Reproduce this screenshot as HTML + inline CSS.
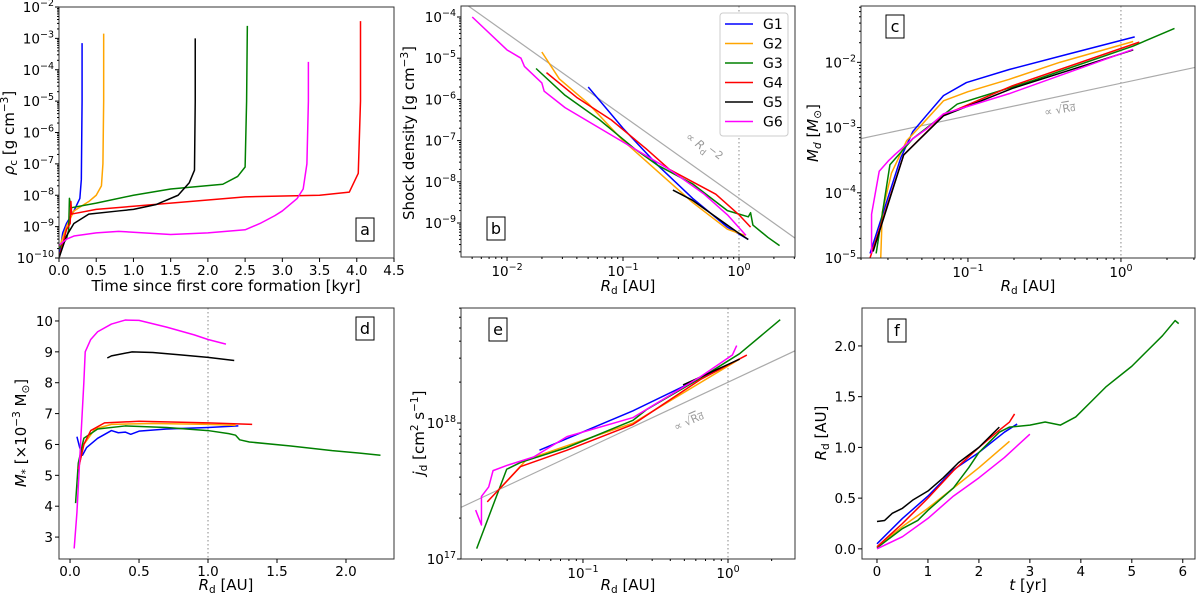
<!DOCTYPE html>
<html><head><meta charset="utf-8">
<style>
body{margin:0;background:#fff;}
svg{display:block;font-family:"DejaVu Sans","Liberation Sans",sans-serif;}
</style></head>
<body>
<svg id="fig" width="1200" height="594" viewBox="0 0 1200 594" xmlns="http://www.w3.org/2000/svg"></svg>
<script>
const seriesNames=['G1','G2','G3','G4','G5','G6'];
const seriesColors=['#0000ff','#ffa500','#008000','#ff0000','#000000','#ff00ff'];
// Panel a: time [kyr] vs log10 rho_c
const aG1=[[0,-10],[0.05,-9.2],[0.1,-8.9],[0.2,-8.5],[0.28,-8.1],[0.3,-7.5],[0.31,-5],[0.31,-3.15]];
const aG2=[[0,-9.7],[0.1,-9],[0.2,-8.5],[0.4,-8.2],[0.5,-8],[0.57,-7.7],[0.59,-7],[0.6,-5],[0.6,-2.85]];
const aG3=[[0,-9.7],[0.1,-9.4],[0.13,-9.1],[0.14,-8.1],[0.16,-8.4],[0.5,-8.25],[1.0,-8.0],[1.5,-7.8],[2.2,-7.65],[2.4,-7.4],[2.5,-7.1],[2.52,-5],[2.53,-2.6]];
const aG4=[[0,-10],[0.1,-9.1],[0.15,-8.9],[0.16,-8.2],[0.17,-8.6],[0.5,-8.45],[1,-8.35],[2,-8.15],[2.5,-8.05],[3.5,-8.0],[3.9,-7.9],[4.02,-7.3],[4.05,-5],[4.05,-2.45]];
const aG5=[[0,-10],[0.1,-9.3],[0.2,-8.9],[0.4,-8.6],[0.8,-8.5],[1.0,-8.45],[1.3,-8.3],[1.6,-8.0],[1.75,-7.6],[1.82,-7.2],[1.83,-5],[1.83,-3.0]];
const aG6=[[0,-9.6],[0.1,-9.4],[0.2,-9.3],[0.5,-9.2],[0.8,-9.15],[1.5,-9.25],[2.0,-9.2],[2.5,-9.1],[2.7,-8.9],[2.9,-8.65],[3.0,-8.5],[3.2,-8.1],[3.28,-7.8],[3.33,-7],[3.35,-5],[3.35,-3.75]];
// Panel b: log10 Rd vs log10 shock density
const bG1=[[-1.3,-5.7],[-1,-6.7],[-0.7,-7.6],[-0.4,-8.4],[-0.1,-9.1],[0.08,-9.4]];
const bG2=[[-1.7,-4.85],[-1.55,-5.5],[-1.3,-6.1],[-1,-7],[-0.7,-7.75],[-0.4,-8.5],[-0.1,-9.15],[0.05,-9.3]];
const bG3=[[-1.75,-5.25],[-1.5,-5.9],[-1.2,-6.5],[-0.9,-7.2],[-0.7,-7.6],[-0.4,-8.05],[-0.1,-8.7],[0.08,-8.85],[0.1,-8.75],[0.12,-9.05],[0.25,-9.35],[0.35,-9.55]];
const bG4=[[-1.66,-5.35],[-1.4,-5.95],[-1.1,-6.5],[-0.8,-7.2],[-0.6,-7.7],[-0.4,-8.0],[-0.2,-8.3],[0,-8.8],[0.1,-9.1]];
const bG5=[[-0.57,-8.2],[-0.4,-8.45],[-0.2,-8.85],[0,-9.25],[0.08,-9.4]];
const bG6=[[-2.3,-4.0],[-2.0,-4.8],[-1.88,-5.0],[-1.85,-5.2],[-1.7,-5.6],[-1.68,-5.8],[-1.5,-6.2],[-1.2,-6.7],[-0.9,-7.2],[-0.6,-7.7],[-0.3,-8.3],[-0.1,-8.8],[0.06,-9.3]];
// Panel c: log10 Rd vs log10 Md
const cG1=[[-1.64,-4.93],[-1.44,-3.47],[-1.36,-3.06],[-1.27,-2.81],[-1.16,-2.51],[-1.01,-2.31],[-0.73,-2.11],[-0.355,-1.88],[0.09,-1.61]];
const cG2=[[-1.57,-5],[-1.56,-4.3],[-1.5,-3.7],[-1.4,-3.2],[-1.3,-2.95],[-1.16,-2.59],[-1.0,-2.45],[-0.73,-2.26],[-0.4,-2.0],[0.08,-1.68]];
const cG3=[[-1.6,-4.93],[-1.51,-3.57],[-1.36,-3.17],[-1.07,-2.64],[-0.575,-2.28],[0.08,-1.75],[0.35,-1.48]];
const cG4=[[-1.64,-5],[-1.42,-3.42],[-1.16,-2.81],[-0.71,-2.36],[0.12,-1.69]];
const cG5=[[-1.62,-4.9],[-1.42,-3.42],[-1.16,-2.82],[-0.71,-2.4],[0.08,-1.81]];
const cG6=[[-1.63,-4.93],[-1.63,-4.33],[-1.58,-3.67],[-1.52,-3.51],[-1.48,-3.42],[-1.36,-3.17],[-1.27,-3.02],[-1.16,-2.79],[-0.73,-2.48],[0.08,-1.8]];
// Panel d: Rd vs M*
const dG1=[[0.05,6.25],[0.07,5.9],[0.09,5.65],[0.12,5.9],[0.2,6.2],[0.3,6.45],[0.35,6.38],[0.4,6.4],[0.44,6.33],[0.5,6.43],[0.7,6.5],[1.0,6.55],[1.22,6.6]];
const dG2=[[0.06,5.2],[0.1,6.0],[0.18,6.5],[0.3,6.65],[0.6,6.68],[1.0,6.65],[1.2,6.62]];
const dG3=[[0.04,4.1],[0.06,5.4],[0.1,6.2],[0.2,6.5],[0.4,6.6],[0.7,6.55],[1.0,6.45],[1.15,6.35],[1.2,6.3],[1.23,6.15],[1.3,6.08],[1.6,5.95],[1.9,5.8],[2.1,5.72],[2.25,5.65]];
const dG4=[[0.06,5.2],[0.1,6.0],[0.15,6.45],[0.25,6.7],[0.5,6.75],[1.0,6.7],[1.32,6.65]];
const dG5=[[0.27,8.8],[0.3,8.87],[0.45,9.0],[0.6,8.98],[0.8,8.9],[1.0,8.82],[1.19,8.72]];
const dG6=[[0.03,2.63],[0.05,3.8],[0.07,5.5],[0.1,8.0],[0.11,9.0],[0.15,9.4],[0.2,9.65],[0.3,9.9],[0.4,10.03],[0.5,10.02],[0.7,9.8],[0.9,9.55],[1.0,9.4],[1.13,9.25]];
// Panel e: log10 Rd vs log10 jd
const eG1=[[-1.30,17.80],[-0.655,18.09],[-0.19,18.33],[0.08,18.47]];
const eG2=[[-1.57,17.52],[-1.39,17.73],[-0.655,18.0],[0.08,18.47]];
const eG3=[[-1.733,17.076],[-1.526,17.66],[-1.43,17.71],[-1.11,17.82],[-0.655,18.02],[-0.56,18.1],[-0.19,18.33],[0.08,18.51],[0.36,18.76]];
const eG4=[[-1.66,17.42],[-1.43,17.68],[-1.11,17.8],[-0.655,17.99],[-0.19,18.32],[0.13,18.5]];
const eG5=[[-0.31,18.28],[0.08,18.47]];
const eG6=[[-1.74,17.36],[-1.70,17.25],[-1.70,17.46],[-1.65,17.53],[-1.62,17.65],[-1.52,17.69],[-1.34,17.75],[-1.11,17.90],[-0.655,18.04],[-0.19,18.34],[0.03,18.5],[0.06,18.57]];
// Panel f: t [yr] vs Rd
const fG1=[[0,0.05],[0.5,0.3],[1.0,0.52],[1.5,0.78],[2.0,0.95],[2.5,1.15],[2.75,1.23]];
const fG2=[[0,0.02],[0.5,0.22],[1.0,0.4],[1.5,0.6],[2.0,0.8],[2.6,1.06]];
const fG3=[[0,0.01],[0.5,0.2],[0.8,0.28],[1.0,0.38],[1.5,0.6],[1.8,0.8],[2.0,0.95],[2.4,1.15],[2.6,1.2],[3.0,1.22],[3.3,1.25],[3.6,1.22],[3.9,1.3],[4.2,1.45],[4.5,1.6],[5.0,1.8],[5.3,1.95],[5.6,2.1],[5.85,2.25],[5.92,2.22]];
const fG4=[[0,0.02],[0.5,0.25],[1.0,0.5],[1.5,0.77],[2.0,1.0],[2.4,1.17],[2.6,1.25],[2.7,1.33]];
const fG5=[[0,0.27],[0.15,0.28],[0.3,0.35],[0.5,0.4],[0.7,0.48],[1.0,0.57],[1.3,0.7],[1.6,0.85],[2.0,1.0],[2.4,1.2]];
const fG6=[[0,0.0],[0.5,0.12],[1.0,0.3],[1.5,0.52],[2.0,0.7],[2.5,0.9],[3.0,1.13]];
// reference power laws: [intercept, slope] in log space
const bRef=[-8.4,-2];
const cRef=[-2.32,0.5];
const eRef=[18.30,0.5];

const NS='http://www.w3.org/2000/svg';
const svg=document.getElementById('fig');
const TF=13.5;
function mk(tag,attrs,parent){const e=document.createElementNS(NS,tag);for(const k in attrs)e.setAttribute(k,attrs[k]);(parent||svg).appendChild(e);return e;}
function pw(g,t,x,y,anchor){
  const e=mk('text',{x:x,y:y,'font-size':TF,'text-anchor':anchor},g);
  e.appendChild(document.createTextNode('10'));
  const s=mk('tspan',{dy:-6,'font-size':9.5},e);s.textContent=String(t).replace('-','−');
  return e;
}
function panel(name,box,xr,yr){
  const [L,T,R,B]=box;
  const g=mk('g',{});
  
  
  const sx=v=>L+(v-xr[0])/(xr[1]-xr[0])*(R-L);
  const sy=v=>B-(v-yr[0])/(yr[1]-yr[0])*(B-T);
  const clip='clip-'+name;
  const cp=mk('clipPath',{id:clip},g);mk('rect',{x:L,y:T,width:R-L,height:B-T},cp);
  const plot=mk('g',{'clip-path':'url(#'+clip+')'},g);
  return {g,plot,sx,sy,L,T,R,B};
}
function frame(p){mk('rect',{x:p.L,y:p.T,width:p.R-p.L,height:p.B-p.T,fill:'none',stroke:'#333','stroke-width':1},p.g);}
function xTicksLin(p,vals,fmt){const a=mk('g',{},p.g);
  vals.forEach(v=>{const x=p.sx(v);mk('line',{x1:x,x2:x,y1:p.B,y2:p.B+4,stroke:'#000'},a);const t=mk('text',{x:x,y:p.B+17,'font-size':TF,'text-anchor':'middle'},a);t.textContent=fmt(v);});}
function yTicksLin(p,vals,fmt){const a=mk('g',{},p.g);
  vals.forEach(v=>{const y=p.sy(v);mk('line',{x1:p.L-4,x2:p.L,y1:y,y2:y,stroke:'#000'},a);const t=mk('text',{x:p.L-6,y:y+5,'font-size':TF,'text-anchor':'end'},a);t.textContent=fmt(v);});}
function xTicksLog(p,lo,hi,labels){const a=mk('g',{},p.g);
  for(let d=Math.floor(lo);d<=hi;d++){for(let m=1;m<10;m++){const v=d+Math.log10(m);if(v<lo||v>hi)continue;const x=p.sx(v);mk('line',{x1:x,x2:x,y1:p.B,y2:p.B+(m==1?4:2),stroke:'#000'},a);
    if(m==1&&labels.includes(d))pw(a,d,x,p.B+19,'middle');}}}
function yTicksLog(p,lo,hi,labels){const a=mk('g',{},p.g);
  for(let d=Math.floor(lo);d<=hi;d++){for(let m=1;m<10;m++){const v=d+Math.log10(m);if(v<lo-1e-9||v>hi)continue;const y=p.sy(v);mk('line',{x1:p.L-(m==1?4:2),x2:p.L,y1:y,y2:y,stroke:'#000'},a);
    if(m==1&&labels.includes(d))pw(a,d,p.L-5,y+5,'end');}}}
function series(p,data,i,pfx){const e=mk('polyline',{points:data.map(d=>p.sx(d[0])+','+p.sy(d[1])).join(' '),fill:'none',stroke:seriesColors[i],'stroke-width':1.5,'stroke-linejoin':'round'},p.plot);
  
  }
function refLine(p,ref,xr,nm){const e=mk('line',{x1:p.sx(xr[0]),y1:p.sy(ref[0]+ref[1]*xr[0]),x2:p.sx(xr[1]),y2:p.sy(ref[0]+ref[1]*xr[1]),stroke:'#aaa','stroke-width':1.2},p.plot);
  
  }
function vline(p,v){const e=mk('line',{x1:p.sx(v),x2:p.sx(v),y1:p.T,y2:p.B,stroke:'#888','stroke-width':1,'stroke-dasharray':'1.5,2.5'},p.plot);
  
  }
function tag(p,ch,cx,cy){const r=mk('rect',{x:cx-9,y:cy-12,width:18,height:23,fill:'#fff',stroke:'#000','stroke-width':1},p.g);
  const t=mk('text',{x:cx,y:cy+5,'font-size':16,'text-anchor':'middle'},p.g);t.textContent=ch;}
function label(html,x,y,rot,nm){const t=mk('text',{x:x,y:y,'font-size':15,'text-anchor':'middle',transform:rot?'rotate(-90 '+x+' '+y+')':''});t.innerHTML=html;
  
  }
const f1=v=>v.toFixed(1);
const RD='<tspan font-style="italic">R</tspan><tspan font-size="10.5" dy="3">d</tspan><tspan dy="-3"> [AU]</tspan>';

// Panel a
const pa=panel('panel-a',[59,7,394,258],[0,4.5],[-10,-2]);
[aG1,aG2,aG3,aG4,aG5,aG6].forEach((d,i)=>series(pa,d,i,'a'));
frame(pa);xTicksLin(pa,[0,0.5,1,1.5,2,2.5,3,3.5,4,4.5],f1);yTicksLog(pa,-10,-2,[-10,-9,-8,-7,-6,-5,-4,-3,-2]);
tag(pa,'a',365,230);
label('Time since first core formation [kyr]',226,291,false,'x-axis-title-a');
label('<tspan font-style="italic">ρ</tspan><tspan font-size="10.5" dy="3">c</tspan><tspan dy="-3"> [g cm</tspan><tspan font-size="10.5" dy="-6">−3</tspan><tspan dy="6">]</tspan>',14,133,true,'y-axis-title-a');

// Panel b
const pb=panel('panel-b',[461,6,795,257],[-2.397,0.483],[-9.825,-3.733]);
vline(pb,0);refLine(pb,bRef,[-2.4,0.5],'reference-line-r-2');
[bG1,bG2,bG3,bG4,bG5,bG6].forEach((d,i)=>series(pb,d,i,'b'));
frame(pb);xTicksLog(pb,-2.397,0.483,[-2,-1,0]);yTicksLog(pb,-9.825,-3.733,[-9,-8,-7,-6,-5,-4]);
tag(pb,'b',496,229);
{const t=mk('text',{x:0,y:0,'font-size':11.5,fill:'#999',transform:'translate(685,138) rotate(38)'});t.innerHTML='∝ <tspan font-style="italic">R</tspan><tspan font-size="8.5" dy="3">d</tspan><tspan dy="-7" font-size="10.5">−2</tspan>';}
label(RD,628,291,false,'x-axis-title-b');
label('Shock density [g cm<tspan font-size="10.5" dy="-6">−3</tspan><tspan dy="6">]</tspan>',414,133,true,'y-axis-title-b');
{const lg=mk('g',{});
 mk('rect',{x:720,y:13,width:68,height:123,rx:3,fill:'#fff',stroke:'#ccc'},lg);
 seriesNames.forEach((n,i)=>{const y=24+i*19.5;const e=mk('g',{},lg);
  mk('line',{x1:725,x2:753,y1:y,y2:y,stroke:seriesColors[i],'stroke-width':1.5},e);const t=mk('text',{x:763,y:y+5,'font-size':14},e);t.textContent=n;});}

// Panel c
const pc=panel('panel-c',[861,6,1195,258],[-1.699,0.484],[-5,-1.136]);
vline(pc,0);refLine(pc,cRef,[-1.8,0.6],'reference-line-sqrt');
[cG1,cG2,cG3,cG4,cG5,cG6].forEach((d,i)=>series(pc,d,i,'c'));
frame(pc);xTicksLog(pc,-1.699,0.484,[-1,0]);yTicksLog(pc,-5,-1.136,[-5,-4,-3,-2]);
tag(pc,'c',895,27);
{const t=mk('text',{x:1045,y:116,'font-size':11,fill:'#999',transform:'rotate(-10 1045 116)'});t.innerHTML='∝ √<tspan text-decoration="overline">R<tspan font-size="8.5">d</tspan></tspan>';}
label(RD,1028,291,false,'x-axis-title-c');
label('<tspan font-style="italic">M</tspan><tspan font-size="10.5" dy="3" font-style="italic">d</tspan><tspan dy="-3"> [</tspan><tspan font-style="italic">M</tspan><tspan font-size="10.5" dy="3">⊙</tspan><tspan dy="-3">]</tspan>',818,133,true,'y-axis-title-c');

// Panel d
const pd=panel('panel-d',[59,308,394,559],[-0.08,2.348],[2.29,10.42]);
vline(pd,1.0);
[dG1,dG2,dG3,dG4,dG5,dG6].forEach((d,i)=>series(pd,d,i,'d'));
frame(pd);xTicksLin(pd,[0,0.5,1,1.5,2],f1);yTicksLin(pd,[3,4,5,6,7,8,9,10],v=>String(v));
tag(pd,'d',365,329);
label(RD,226,590,false,'x-axis-title-d');
label('<tspan font-style="italic">M</tspan><tspan font-size="10.5" dy="3">*</tspan><tspan dy="-3"> [×10</tspan><tspan font-size="10.5" dy="-6">−3</tspan><tspan dy="6"> M</tspan><tspan font-size="10.5" dy="3">⊙</tspan><tspan dy="-3">]</tspan>',26,433,true,'y-axis-title-d');

// Panel e
const pe=panel('panel-e',[461,308,795,559],[-1.841,0.462],[17,18.846]);
vline(pe,0);refLine(pe,eRef,[-1.9,0.5],'reference-line-sqrt-e');
[eG1,eG2,eG3,eG4,eG5,eG6].forEach((d,i)=>series(pe,d,i,'e'));
frame(pe);xTicksLog(pe,-1.841,0.462,[-1,0]);yTicksLog(pe,17,18.846,[17,18]);
tag(pe,'e',498,330);
{const t=mk('text',{x:676,y:431,'font-size':11,fill:'#999',transform:'rotate(-24 676 431)'});t.innerHTML='∝ √<tspan text-decoration="overline">R<tspan font-size="8.5">d</tspan></tspan>';}
label(RD,628,590,false,'x-axis-title-e');
label('<tspan font-style="italic">j</tspan><tspan font-size="10.5" dy="3">d</tspan><tspan dy="-3"> [cm</tspan><tspan font-size="10.5" dy="-6">2</tspan><tspan dy="6"> s</tspan><tspan font-size="10.5" dy="-6">−1</tspan><tspan dy="6">]</tspan>',424,433,true,'y-axis-title-e');

// Panel f
const pf=panel('panel-f',[862,308,1195,559],[-0.294,6.24],[-0.1,2.374]);
[fG1,fG2,fG3,fG4,fG5,fG6].forEach((d,i)=>series(pf,d,i,'f'));
frame(pf);xTicksLin(pf,[0,1,2,3,4,5,6],v=>String(v));yTicksLin(pf,[0,0.5,1,1.5,2],f1);
tag(pf,'f',897,331);
label('<tspan font-style="italic">t</tspan> [yr]',1028,590,false,'x-axis-title-f');
label(RD,826,433,true,'y-axis-title-f');
</script>
</body></html>
